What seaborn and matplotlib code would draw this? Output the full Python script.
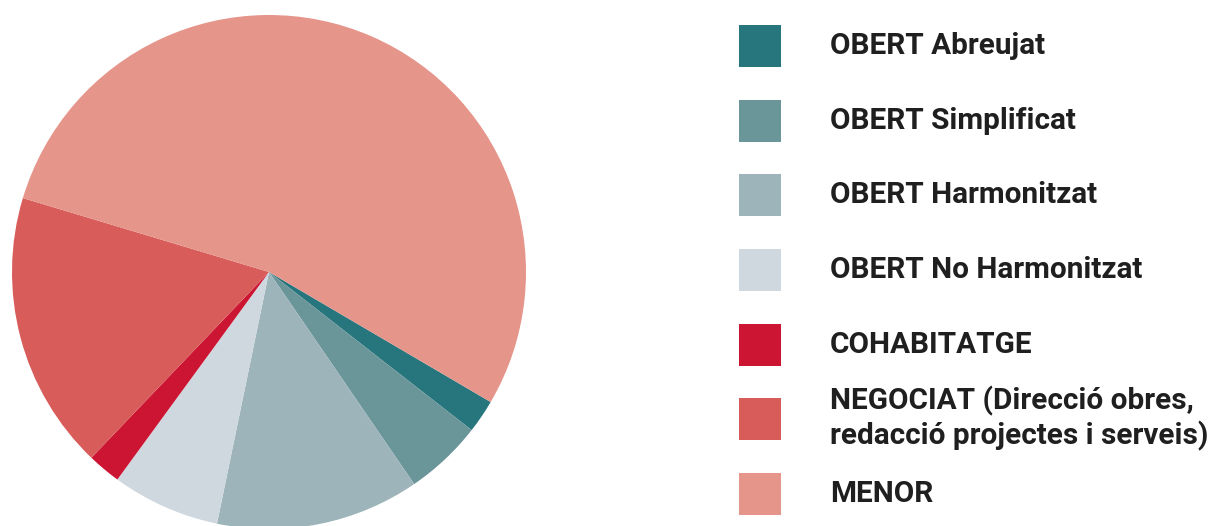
import numpy as np
import pandas as pd
import matplotlib
matplotlib.use("Agg")
import matplotlib.pyplot as plt
from matplotlib.patches import Rectangle
import seaborn as sns

# Dades (percentatges llegits del gràfic)
categories = ["OBERT Abreujat", "OBERT Simplificat", "OBERT Harmonitzat",
              "OBERT No Harmonitzat", "COHABITATGE",
              "NEGOCIAT (Direcció obres,\nredacció projectes i serveis)", "MENOR"]
shares = [2.1, 4.9, 12.8, 6.8, 2.1, 17.5, 53.8]
colors = ["#27767e", "#6a9599", "#9db4ba", "#cfd8de", "#cc1532", "#d85c5a", "#e5958a"]

sns.set_theme(style="white")
plt.rcParams['font.family'] = ['Roboto', 'DejaVu Sans']

W, H = 1211, 526
fig = plt.figure(figsize=(W / 100, H / 100), dpi=100)

# pastís (centre ~ (269, 272) px, radi ~257 px)
ax = fig.add_axes([12 / W, -3 / H, 514 / W, 514 / H])
ax.pie(shares, colors=colors, startangle=-30.4, counterclock=False,
       radius=1, wedgeprops=dict(linewidth=0))
ax.set_xlim(-1, 1)
ax.set_ylim(-1, 1)
ax.set_aspect("equal")
ax.axis("off")

# llegenda feta a mà
y0 = 46
step = 74.67
for i, (lab, col) in enumerate(zip(categories, colors)):
    yc = y0 + i * step
    fig.add_artist(Rectangle((739 / W, 1 - (yc + 21) / H), 42 / W, 42 / H,
                             transform=fig.transFigure, color=col, lw=0))
    lines = lab.split("\n")
    base = yc + 8 - (len(lines) - 1) * 35 / 2
    for j, line in enumerate(lines):
        fig.text(830 / W, 1 - (base + j * 35) / H, line, fontsize=21.4,
                 fontweight="bold", color="#1f1f1f", va="baseline", ha="left")

fig.savefig("out.png", dpi=100)
